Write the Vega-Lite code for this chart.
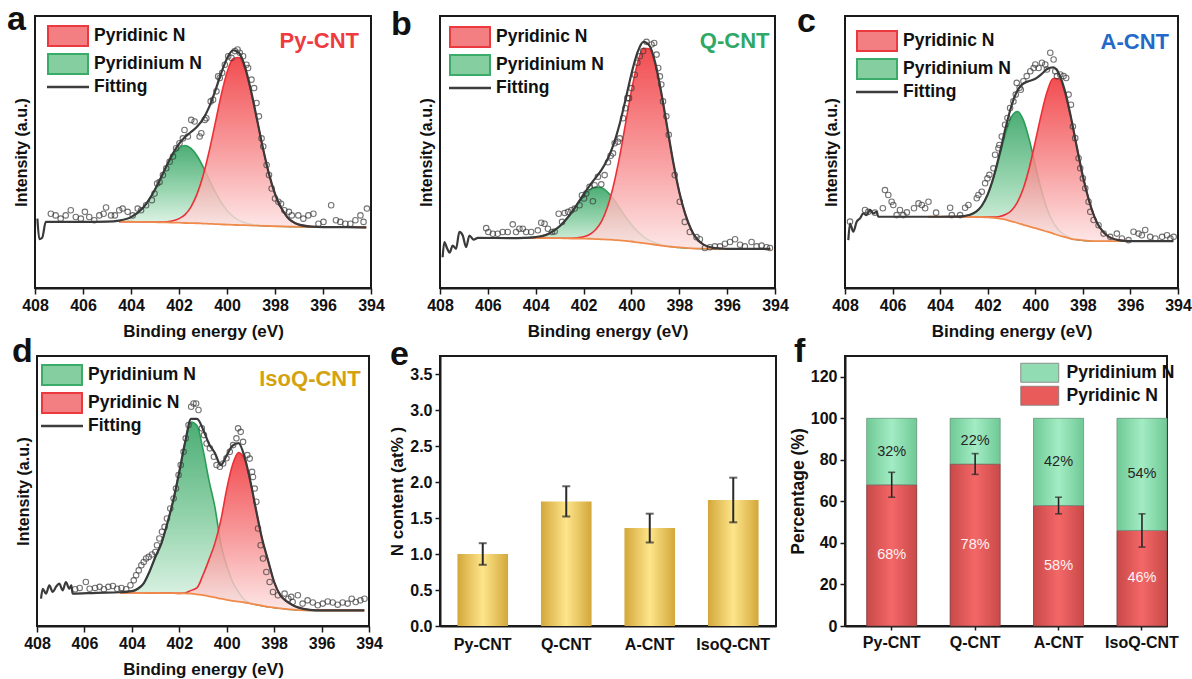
{
"$schema": "https://vega.github.io/schema/vega-lite/v6.json",
"autosize": {"type": "pad"},
"padding": {"left": 6, "top": 2, "right": 5, "bottom": 5},
"background": "white",
"config": {
  "font": "Liberation Sans",
  "view": {"stroke": "#1a1a1a", "strokeWidth": 2},
  "axis": {"grid": false, "domainColor": "#1a1a1a", "domainWidth": 2, "tickColor": "#1a1a1a", "tickWidth": 1.5, "labelColor": "#111", "labelFontWeight": "bold", "labelFontSize": 16, "titleColor": "#111", "titleFontWeight": "bold", "titleFontSize": 17},
  "title": {"font": "Liberation Sans", "fontWeight": "bold", "fontSize": 34, "color": "#111", "anchor": "start", "frame": "group", "offset": 0, "baseline": "alphabetic"},
  "legend": {"labelFont": "Liberation Sans"}
},
"datasets": {
"a_fit": [
{"e":407.9,"fit":25.5},{"e":407.82,"fit":18.0},{"e":407.7,"fit":18.5},{"e":407.55,"fit":24.3},{"e":406,"fit":24.3},{"e":405,"fit":24.4},
{"e":404.5,"bg":24.4,"r":24.4,"g":24.8,"fit":24.8},
{"e":404,"bg":24.35,"r":24.35,"g":26.05,"fit":26.05},
{"e":403.5,"bg":24.3,"r":24.3,"g":29.5,"fit":29.5},
{"e":403,"bg":24.2,"r":24.24,"g":36.2,"fit":36.24},
{"e":402.75,"bg":24.15,"r":24.25,"g":40.55,"fit":40.65},
{"e":402.5,"bg":24.1,"r":24.37,"g":45.0,"fit":45.27},
{"e":402.25,"bg":24.05,"r":24.72,"g":48.85,"fit":49.52},
{"e":402,"bg":24.0,"r":25.5,"g":51.5,"fit":53.0},
{"e":401.75,"bg":23.9,"r":27.0,"g":52.4,"fit":55.5},
{"e":401.5,"bg":23.85,"r":29.85,"g":51.35,"fit":57.35},
{"e":401.25,"bg":23.8,"r":34.5,"g":48.6,"fit":59.3},
{"e":401,"bg":23.7,"r":41.2,"g":44.6,"fit":62.1},
{"e":400.75,"bg":23.6,"r":50.0,"g":40.0,"fit":66.4},
{"e":400.5,"bg":23.5,"r":60.2,"g":35.5,"fit":72.2},
{"e":400.25,"bg":23.4,"r":70.6,"g":31.6,"fit":78.8},
{"e":400,"bg":23.3,"r":79.2,"g":28.5,"fit":84.4},
{"e":399.75,"bg":23.2,"r":84.3,"g":26.3,"fit":87.4},
{"e":399.5,"bg":23.15,"r":84.75,"g":24.85,"fit":86.45},
{"e":399.25,"bg":23.1,"r":80.4,"g":24.0,"fit":81.3},
{"e":399,"bg":23.0,"r":72.1,"g":23.43,"fit":72.53},
{"e":398.75,"bg":22.9,"r":61.8,"g":23.1,"fit":62.0},
{"e":398.5,"bg":22.85,"r":51.25,"g":22.93,"fit":51.33},
{"e":398.25,"bg":22.8,"r":41.9,"g":22.8,"fit":41.9},
{"e":398,"bg":22.7,"r":34.6,"g":22.7,"fit":34.6},
{"e":397.5,"bg":22.6,"r":26.2,"g":22.6,"fit":26.2},
{"e":397,"bg":22.5,"r":23.3,"g":22.5,"fit":23.3},
{"e":396.5,"bg":22.45,"r":22.58,"g":22.45,"fit":22.58},
{"e":396,"bg":22.4,"r":22.4,"g":22.4,"fit":22.4},
{"e":395,"bg":22.4,"r":22.4,"g":22.4,"fit":22.4},
{"e":394.2,"bg":22.3,"r":22.3,"g":22.3,"fit":22.3}
],
"a_pts": [
{"e":407.34,"v":27.3},{"e":407.14,"v":26.7},{"e":406.93,"v":25.5},{"e":406.72,"v":26.7},{"e":406.51,"v":28.6},{"e":406.3,"v":26.1},{"e":406.09,"v":25.5},{"e":405.92,"v":28.0},{"e":405.74,"v":26.1},{"e":405.53,"v":24.9},{"e":405.32,"v":26.7},{"e":405.14,"v":27.3},{"e":405.04,"v":29.6},{"e":404.83,"v":26.7},{"e":404.67,"v":26.7},{"e":404.49,"v":28.6},{"e":404.35,"v":29.2},{"e":404.14,"v":28.0},{"e":403.93,"v":26.7},{"e":403.72,"v":29.2},{"e":403.58,"v":28.6},{"e":403.37,"v":30.4},{"e":403.13,"v":32.3},{"e":403.02,"v":34.7},{"e":402.91,"v":38.4},{"e":402.81,"v":39.0},{"e":402.67,"v":41.5},{"e":402.53,"v":44.0},{"e":402.39,"v":46.4},{"e":402.25,"v":48.3},{"e":402.12,"v":51.4},{"e":401.98,"v":53.2},{"e":401.84,"v":55.0},{"e":401.77,"v":58.1},{"e":401.63,"v":55.7},{"e":401.49,"v":61.8},{"e":401.35,"v":61.2},{"e":401.14,"v":55.7},{"e":401.07,"v":56.9},{"e":400.93,"v":61.8},{"e":400.86,"v":62.4},{"e":400.68,"v":68.6},{"e":400.58,"v":69.2},{"e":400.44,"v":72.3},{"e":400.37,"v":77.8},{"e":400.3,"v":77.2},{"e":400.2,"v":79.1},{"e":400.09,"v":82.1},{"e":399.95,"v":85.2},{"e":399.81,"v":84.6},{"e":399.67,"v":87.1},{"e":399.56,"v":87.7},{"e":399.47,"v":86.5},{"e":399.33,"v":85.2},{"e":399.19,"v":82.1},{"e":399.12,"v":80.9},{"e":398.98,"v":76.6},{"e":398.87,"v":73.5},{"e":398.77,"v":68.0},{"e":398.67,"v":63.1},{"e":398.56,"v":55.0},{"e":398.49,"v":52.0},{"e":398.35,"v":45.2},{"e":398.25,"v":41.5},{"e":398.14,"v":36.6},{"e":398.0,"v":32.9},{"e":397.86,"v":31.7},{"e":397.75,"v":31.0},{"e":397.61,"v":28.6},{"e":397.42,"v":28.0},{"e":397.3,"v":26.7},{"e":397.03,"v":26.7},{"e":396.82,"v":25.5},{"e":396.61,"v":26.7},{"e":396.4,"v":27.3},{"e":396.19,"v":23.6},{"e":395.98,"v":24.3},{"e":395.66,"v":30.4},{"e":395.46,"v":24.9},{"e":395.28,"v":24.3},{"e":395.07,"v":23.6},{"e":394.86,"v":23.6},{"e":394.65,"v":24.9},{"e":394.44,"v":26.7},{"e":394.31,"v":24.3},{"e":394.17,"v":29.2}
],
"b_fit": [
{"e":407.89,"fit":11.3},{"e":407.82,"fit":16.9},{"e":407.7,"fit":14.5},{"e":407.6,"fit":13.0},{"e":407.47,"fit":15.6},{"e":407.33,"fit":14.4},{"e":407.19,"fit":20.6},{"e":407.05,"fit":19.3},{"e":406.91,"fit":15.0},{"e":406.77,"fit":19.3},{"e":406.59,"fit":17.8},{"e":406.42,"fit":18.4},{"e":405,"fit":18.35},
{"e":404.5,"bg":18.35,"r":18.35,"g":18.42,"fit":18.42},
{"e":404,"bg":18.35,"r":18.35,"g":18.73,"fit":18.73},
{"e":403.5,"bg":18.3,"r":18.3,"g":19.8,"fit":19.8},
{"e":403,"bg":18.3,"r":18.3,"g":22.7,"fit":22.7},
{"e":402.75,"bg":18.25,"r":18.28,"g":24.95,"fit":24.98},
{"e":402.5,"bg":18.2,"r":18.3,"g":27.7,"fit":27.8},
{"e":402.25,"bg":18.2,"r":18.47,"g":30.8,"fit":31.07},
{"e":402,"bg":18.15,"r":18.82,"g":33.75,"fit":34.42},
{"e":401.75,"bg":18.1,"r":19.67,"g":36.0,"fit":37.57},
{"e":401.5,"bg":18.0,"r":21.4,"g":37.1,"fit":40.5},
{"e":401.25,"bg":17.9,"r":24.5,"g":36.85,"fit":43.45},
{"e":401,"bg":17.8,"r":29.8,"g":35.3,"fit":47.3},
{"e":400.75,"bg":17.7,"r":37.7,"g":32.7,"fit":52.7},
{"e":400.5,"bg":17.5,"r":48.0,"g":29.5,"fit":60.0},
{"e":400.25,"bg":17.3,"r":60.2,"g":26.2,"fit":69.1},
{"e":400,"bg":17.1,"r":72.5,"g":23.3,"fit":78.7},
{"e":399.75,"bg":16.8,"r":82.5,"g":20.8,"fit":86.5},
{"e":399.5,"bg":16.5,"r":88.1,"g":18.9,"fit":90.5},
{"e":399.25,"bg":16.2,"r":87.9,"g":17.5,"fit":89.2},
{"e":399,"bg":15.9,"r":81.9,"g":16.6,"fit":82.6},
{"e":398.75,"bg":15.6,"r":71.4,"g":15.93,"fit":71.73},
{"e":398.5,"bg":15.3,"r":58.7,"g":15.45,"fit":58.85},
{"e":398.25,"bg":15.1,"r":46.1,"g":15.16,"fit":46.16},
{"e":398,"bg":14.9,"r":35.3,"g":14.9,"fit":35.3},
{"e":397.5,"bg":14.6,"r":21.4,"g":14.6,"fit":21.4},
{"e":397,"bg":14.45,"r":16.05,"g":14.45,"fit":16.05},
{"e":396.5,"bg":14.4,"r":14.7,"g":14.4,"fit":14.7},
{"e":396,"bg":14.4,"r":14.4,"g":14.4,"fit":14.4},
{"e":395,"bg":14.4,"r":14.4,"g":14.4,"fit":14.4},
{"e":394.2,"bg":14.4,"r":14.4,"g":14.4,"fit":14.4}
],
"b_pts": [
{"e":406.07,"v":22.0},{"e":405.98,"v":20.6},{"e":405.79,"v":19.95},{"e":405.59,"v":19.95},{"e":405.38,"v":20.6},{"e":405.17,"v":20.6},{"e":404.96,"v":23.4},{"e":404.82,"v":20.6},{"e":404.68,"v":21.8},{"e":404.54,"v":21.8},{"e":404.4,"v":20.6},{"e":404.19,"v":20.6},{"e":403.91,"v":21.2},{"e":403.77,"v":24.0},{"e":403.63,"v":23.6},{"e":403.49,"v":21.8},{"e":403.32,"v":20.6},{"e":403.21,"v":20.8},{"e":403.04,"v":27.3},{"e":402.9,"v":24.3},{"e":402.79,"v":27.6},{"e":402.65,"v":28.0},{"e":402.51,"v":28.6},{"e":402.37,"v":29.2},{"e":402.17,"v":30.4},{"e":402.07,"v":34.1},{"e":401.98,"v":32.9},{"e":401.89,"v":34.7},{"e":401.75,"v":37.2},{"e":401.61,"v":31.9},{"e":401.54,"v":37.8},{"e":401.4,"v":40.9},{"e":401.26,"v":38.1},{"e":401.12,"v":41.5},{"e":400.98,"v":46.2},{"e":400.87,"v":48.6},{"e":400.77,"v":49.5},{"e":400.7,"v":53.2},{"e":400.56,"v":53.8},{"e":400.49,"v":55.0},{"e":400.35,"v":62.4},{"e":400.25,"v":66.1},{"e":400.17,"v":69.8},{"e":400.1,"v":69.8},{"e":400.0,"v":73.5},{"e":399.86,"v":78.4},{"e":399.75,"v":82.8},{"e":399.65,"v":85.2},{"e":399.51,"v":87.1},{"e":399.37,"v":90.5},{"e":399.16,"v":89.5},{"e":399.05,"v":90.1},{"e":398.95,"v":85.8},{"e":398.88,"v":80.9},{"e":398.81,"v":77.8},{"e":398.75,"v":74.8},{"e":398.68,"v":68.6},{"e":398.54,"v":63.1},{"e":398.44,"v":56.3},{"e":398.19,"v":41.5},{"e":397.98,"v":31.7},{"e":397.77,"v":24.3},{"e":397.56,"v":20.6},{"e":397.28,"v":18.7},{"e":397.14,"v":17.9},{"e":396.93,"v":14.7},{"e":396.72,"v":15.0},{"e":396.51,"v":15.3},{"e":396.3,"v":15.3},{"e":396.09,"v":16.3},{"e":395.88,"v":16.9},{"e":395.67,"v":17.9},{"e":395.46,"v":15.9},{"e":395.26,"v":15.3},{"e":394.98,"v":16.9},{"e":394.77,"v":15.3},{"e":394.56,"v":15.6},{"e":394.35,"v":15.0},{"e":394.21,"v":14.7}
],
"c_fit": [
{"e":407.86,"fit":17.6},{"e":407.79,"fit":23.7},{"e":407.65,"fit":20.7},{"e":407.51,"fit":24.4},{"e":407.37,"fit":25.6},{"e":407.23,"fit":27.4},{"e":407.09,"fit":26.8},{"e":406.95,"fit":28.7},{"e":406.81,"fit":27.4},{"e":406.67,"fit":28.0},{"e":406.6,"fit":26.2},{"e":405,"fit":26.2},
{"e":404.5,"bg":26.2,"r":26.2,"g":26.2,"fit":26.2},
{"e":404,"bg":26.2,"r":26.2,"g":26.2,"fit":26.2},
{"e":403.5,"bg":26.2,"r":26.2,"g":26.22,"fit":26.22},
{"e":403,"bg":26.2,"r":26.2,"g":26.43,"fit":26.43},
{"e":402.75,"bg":26.2,"r":26.2,"g":26.9,"fit":26.9},
{"e":402.5,"bg":26.15,"r":26.15,"g":27.95,"fit":27.95},
{"e":402.25,"bg":26.1,"r":26.14,"g":30.2,"fit":30.24},
{"e":402,"bg":26.0,"r":26.11,"g":34.3,"fit":34.41},
{"e":401.75,"bg":25.8,"r":26.11,"g":40.6,"fit":40.91},
{"e":401.5,"bg":25.5,"r":26.3,"g":48.6,"fit":49.4},
{"e":401.25,"bg":25.1,"r":27.0,"g":56.9,"fit":58.8},
{"e":401,"bg":24.5,"r":28.5,"g":63.0,"fit":67.0},
{"e":400.75,"bg":23.9,"r":31.6,"g":64.9,"fit":72.6},
{"e":400.5,"bg":23.2,"r":36.7,"g":61.7,"fit":75.2},
{"e":400.25,"bg":22.6,"r":44.3,"g":54.4,"fit":76.1},
{"e":400,"bg":22.0,"r":53.8,"g":45.1,"fit":76.9},
{"e":399.75,"bg":21.35,"r":63.75,"g":36.15,"fit":78.55},
{"e":399.5,"bg":20.7,"r":72.2,"g":29.0,"fit":80.5},
{"e":399.25,"bg":20.0,"r":77.0,"g":24.1,"fit":81.1},
{"e":399,"bg":19.3,"r":76.9,"g":21.1,"fit":78.7},
{"e":398.75,"bg":18.7,"r":71.6,"g":19.4,"fit":72.3},
{"e":398.5,"bg":18.1,"r":62.5,"g":18.33,"fit":62.73},
{"e":398.25,"bg":17.75,"r":51.65,"g":17.77,"fit":51.67},
{"e":398,"bg":17.5,"r":41.1,"g":17.5,"fit":41.1},
{"e":397.5,"bg":17.25,"r":25.85,"g":17.25,"fit":25.85},
{"e":397,"bg":17.2,"r":19.4,"g":17.2,"fit":19.4},
{"e":396.5,"bg":17.2,"r":17.6,"g":17.2,"fit":17.6},
{"e":396,"bg":17.2,"r":17.25,"g":17.2,"fit":17.25},
{"e":395,"bg":17.2,"r":17.2,"g":17.2,"fit":17.2},
{"e":394.2,"bg":17.2,"r":17.2,"g":17.2,"fit":17.2}
],
"c_pts": [
{"e":407.79,"v":24.4},{"e":407.16,"v":28.7},{"e":407.02,"v":28.0},{"e":406.74,"v":27.7},{"e":406.41,"v":29.3},{"e":406.32,"v":36.0},{"e":406.18,"v":34.2},{"e":406.04,"v":31.7},{"e":405.97,"v":30.5},{"e":405.83,"v":26.8},{"e":405.69,"v":28.7},{"e":405.55,"v":26.8},{"e":405.4,"v":27.8},{"e":405.1,"v":29.3},{"e":404.91,"v":31.1},{"e":404.77,"v":30.5},{"e":404.63,"v":29.3},{"e":404.49,"v":31.7},{"e":404.17,"v":27.7},{"e":403.58,"v":29.5},{"e":403.51,"v":26.8},{"e":403.16,"v":26.8},{"e":402.95,"v":29.5},{"e":402.81,"v":30.5},{"e":402.46,"v":33.0},{"e":402.39,"v":34.2},{"e":402.25,"v":35.4},{"e":402.11,"v":38.5},{"e":402.01,"v":40.3},{"e":401.93,"v":41.6},{"e":401.76,"v":44.0},{"e":401.69,"v":49.0},{"e":401.55,"v":51.4},{"e":401.51,"v":52.6},{"e":401.41,"v":55.7},{"e":401.27,"v":60.0},{"e":401.17,"v":62.5},{"e":401.06,"v":66.2},{"e":400.92,"v":68.6},{"e":400.82,"v":71.1},{"e":400.78,"v":75.4},{"e":400.66,"v":73.6},{"e":400.61,"v":72.9},{"e":400.5,"v":76.0},{"e":400.36,"v":77.9},{"e":400.21,"v":79.7},{"e":400.07,"v":80.9},{"e":400.0,"v":82.2},{"e":399.86,"v":80.9},{"e":399.72,"v":82.8},{"e":399.58,"v":82.2},{"e":399.51,"v":80.3},{"e":399.37,"v":86.5},{"e":399.23,"v":84.0},{"e":399.16,"v":79.7},{"e":399.09,"v":77.9},{"e":398.95,"v":78.5},{"e":398.81,"v":77.9},{"e":398.7,"v":77.2},{"e":398.6,"v":71.1},{"e":398.5,"v":67.4},{"e":398.42,"v":59.4},{"e":398.32,"v":55.1},{"e":398.18,"v":47.7},{"e":398.11,"v":44.0},{"e":398.0,"v":40.3},{"e":397.9,"v":36.7},{"e":397.76,"v":31.7},{"e":397.69,"v":28.0},{"e":397.55,"v":25.0},{"e":397.34,"v":23.1},{"e":397.13,"v":20.0},{"e":396.85,"v":18.8},{"e":396.57,"v":20.0},{"e":396.36,"v":18.2},{"e":396.08,"v":17.6},{"e":395.87,"v":20.7},{"e":395.66,"v":20.0},{"e":395.52,"v":19.4},{"e":395.38,"v":21.3},{"e":395.17,"v":18.8},{"e":394.95,"v":18.2},{"e":394.67,"v":18.8},{"e":394.46,"v":19.4},{"e":394.32,"v":18.2},{"e":394.18,"v":18.8}
],
"d_fit": [
{"e":407.83,"fit":10.1},{"e":407.76,"fit":13.8},{"e":407.62,"fit":12.0},{"e":407.48,"fit":15.1},{"e":407.34,"fit":12.6},{"e":407.2,"fit":14.5},{"e":407.06,"fit":15.7},{"e":406.92,"fit":13.2},{"e":406.78,"fit":16.3},{"e":406.64,"fit":13.8},{"e":406.55,"fit":15.1},{"e":406.5,"fit":12.0},{"e":405.5,"fit":12.3},
{"e":404.5,"bg":12.3,"r":12.3,"g":12.5,"fit":12.5},
{"e":404,"bg":12.3,"r":12.3,"g":12.9,"fit":12.9},
{"e":403.75,"bg":12.3,"r":12.3,"g":13.8,"fit":13.8},
{"e":403.5,"bg":12.3,"r":12.3,"g":15.8,"fit":15.8},
{"e":403.25,"bg":12.25,"r":12.25,"g":20.25,"fit":20.25},
{"e":403,"bg":12.25,"r":12.25,"g":25.75,"fit":25.75},
{"e":402.75,"bg":12.2,"r":12.2,"g":30.7,"fit":30.7},
{"e":402.5,"bg":12.2,"r":12.2,"g":38.2,"fit":38.2},
{"e":402.25,"bg":12.15,"r":12.15,"g":46.65,"fit":46.65},
{"e":402,"bg":12.1,"r":12.1,"g":57.1,"fit":57.1},
{"e":401.75,"bg":12.05,"r":12.25,"g":68.05,"fit":68.25},
{"e":401.5,"bg":12.0,"r":13.2,"g":75.5,"fit":76.7},
{"e":401.25,"bg":11.7,"r":14.2,"g":74.2,"fit":76.7},
{"e":401,"bg":11.4,"r":18.9,"g":65.4,"fit":72.9},
{"e":400.75,"bg":11.0,"r":24.5,"g":54.0,"fit":67.5},
{"e":400.5,"bg":10.6,"r":30.6,"g":44.1,"fit":64.1},
{"e":400.25,"bg":10.1,"r":39.1,"g":30.6,"fit":59.6},
{"e":400,"bg":9.7,"r":50.7,"g":22.2,"fit":63.2},
{"e":399.75,"bg":9.3,"r":59.8,"g":16.3,"fit":66.8},
{"e":399.5,"bg":9.0,"r":64.2,"g":12.5,"fit":67.7},
{"e":399.25,"bg":8.7,"r":61.7,"g":9.7,"fit":62.7},
{"e":399,"bg":8.3,"r":53.3,"g":8.5,"fit":53.5},
{"e":398.75,"bg":7.9,"r":42.4,"g":7.9,"fit":42.4},
{"e":398.5,"bg":7.5,"r":32.0,"g":7.5,"fit":32.0},
{"e":398.25,"bg":7.1,"r":24.1,"g":7.1,"fit":24.1},
{"e":398,"bg":6.8,"r":16.3,"g":6.8,"fit":16.3},
{"e":397.75,"bg":6.55,"r":11.55,"g":6.55,"fit":11.55},
{"e":397.5,"bg":6.3,"r":9.3,"g":6.3,"fit":9.3},
{"e":397.25,"bg":6.1,"r":7.9,"g":6.1,"fit":7.9},
{"e":397,"bg":5.9,"r":6.9,"g":5.9,"fit":6.9},
{"e":396.5,"bg":5.8,"r":6.0,"g":5.8,"fit":6.0},
{"e":396,"bg":5.8,"r":5.8,"g":5.8,"fit":5.8},
{"e":395,"bg":5.8,"r":5.8,"g":5.8,"fit":5.8},
{"e":394.2,"bg":5.8,"r":5.8,"g":5.8,"fit":5.8}
],
"d_pts": [
{"e":406.39,"v":13.6},{"e":406.2,"v":14.1},{"e":405.94,"v":16.3},{"e":405.78,"v":13.8},{"e":405.55,"v":14.1},{"e":405.36,"v":14.5},{"e":405.18,"v":13.6},{"e":404.99,"v":14.5},{"e":404.8,"v":14.8},{"e":404.62,"v":13.8},{"e":404.44,"v":14.1},{"e":404.24,"v":13.6},{"e":404.06,"v":15.1},{"e":403.92,"v":16.9},{"e":403.82,"v":18.8},{"e":403.71,"v":20.6},{"e":403.6,"v":22.5},{"e":403.5,"v":23.7},{"e":403.4,"v":25.0},{"e":403.29,"v":25.6},{"e":403.15,"v":26.5},{"e":403.01,"v":27.4},{"e":402.94,"v":29.9},{"e":402.84,"v":32.4},{"e":402.73,"v":34.9},{"e":402.62,"v":36.7},{"e":402.52,"v":39.8},{"e":402.38,"v":43.5},{"e":402.24,"v":47.2},{"e":402.14,"v":50.9},{"e":402.03,"v":55.9},{"e":401.94,"v":59.6},{"e":401.82,"v":64.5},{"e":401.73,"v":69.5},{"e":401.61,"v":74.4},{"e":401.5,"v":81.2},{"e":401.4,"v":82.4},{"e":401.29,"v":82.4},{"e":401.19,"v":80.0},{"e":401.05,"v":73.2},{"e":400.96,"v":70.7},{"e":400.85,"v":67.6},{"e":400.71,"v":65.8},{"e":400.54,"v":62.7},{"e":400.43,"v":59.6},{"e":400.29,"v":59.0},{"e":400.15,"v":60.2},{"e":400.01,"v":62.1},{"e":399.87,"v":64.5},{"e":399.73,"v":67.0},{"e":399.59,"v":69.5},{"e":399.52,"v":73.2},{"e":399.41,"v":71.9},{"e":399.31,"v":68.2},{"e":399.13,"v":63.3},{"e":399.03,"v":62.0},{"e":398.93,"v":57.1},{"e":398.89,"v":55.2},{"e":398.82,"v":50.9},{"e":398.75,"v":46.0},{"e":398.68,"v":36.1},{"e":398.57,"v":29.9},{"e":398.47,"v":25.0},{"e":398.33,"v":20.0},{"e":398.19,"v":16.3},{"e":398.05,"v":12.6},{"e":397.84,"v":11.4},{"e":397.56,"v":12.0},{"e":397.4,"v":10.1},{"e":397.28,"v":10.8},{"e":397.22,"v":8.9},{"e":397.0,"v":11.4},{"e":396.8,"v":8.3},{"e":396.59,"v":9.5},{"e":396.37,"v":8.7},{"e":396.16,"v":7.7},{"e":395.95,"v":8.3},{"e":395.74,"v":9.1},{"e":395.53,"v":8.7},{"e":395.32,"v":7.9},{"e":395.11,"v":8.7},{"e":394.9,"v":8.3},{"e":394.73,"v":10.1},{"e":394.56,"v":8.9},{"e":394.36,"v":9.5},{"e":394.19,"v":10.1}
],
"e_data": [
{"cat":"Py-CNT","v":1.0,"lo":0.85,"hi":1.15},
{"cat":"Q-CNT","v":1.73,"lo":1.52,"hi":1.94},
{"cat":"A-CNT","v":1.36,"lo":1.16,"hi":1.56},
{"cat":"IsoQ-CNT","v":1.75,"lo":1.44,"hi":2.06}
],
"f_data": [
{"cat":"Py-CNT","kind":"Pyridinic N","pct":68,"label":"68%"},
{"cat":"Py-CNT","kind":"Pyridinium N","pct":32,"label":"32%"},
{"cat":"Q-CNT","kind":"Pyridinic N","pct":78,"label":"78%"},
{"cat":"Q-CNT","kind":"Pyridinium N","pct":22,"label":"22%"},
{"cat":"A-CNT","kind":"Pyridinic N","pct":58,"label":"58%"},
{"cat":"A-CNT","kind":"Pyridinium N","pct":42,"label":"42%"},
{"cat":"IsoQ-CNT","kind":"Pyridinic N","pct":46,"label":"46%"},
{"cat":"IsoQ-CNT","kind":"Pyridinium N","pct":54,"label":"54%"}
],
"f_err": [
{"cat":"Py-CNT","lo":62,"hi":74},
{"cat":"Q-CNT","lo":73,"hi":83},
{"cat":"A-CNT","lo":54,"hi":62},
{"cat":"IsoQ-CNT","lo":38,"hi":54}
]
},
"columns": 3,
"spacing": {"row": 68, "column": 69},
"bounds": "flush",
"center": true,
"align": "all",
"resolve": {"scale": {"fill": "independent", "stroke": "independent", "shape": "independent"}, "legend": {"fill": "independent", "stroke": "independent", "shape": "independent"}},
"concat": [
 {"width": 336, "height": 272,
  "title": {"text": "a", "dx": -28, "dy": 25},
  "layer": [
   {"data": {"name": "a_fit"}, "mark": {"type": "area", "interpolate": "monotone", "opacity": 0.85, "fill": {"gradient": "linear", "x1": 0, "y1": 0, "x2": 0, "y2": 1, "stops": [{"offset": 0, "color": "#2c9f5c"}, {"offset": 0.55, "color": "#88cfa3"}, {"offset": 1, "color": "#e2f5e9"}]}},
    "encoding": {"x": {"field": "e", "type": "quantitative", "scale": {"domain": [408, 394], "nice": false, "zero": false},
       "axis": {"values": [394,395,396,397,398,399,400,401,402,403,404,405,406,407,408], "labelExpr": "datum.value % 2 === 0 ? datum.label : ''", "tickSize": {"condition": {"test": "datum.value % 2 === 0", "value": 6}, "value": 3}, "labelPadding": 3, "labelOverlap": false, "labelFlush": false, "title": "Binding energy (eV)", "titlePadding": 10}},
     "y": {"field": "g", "type": "quantitative", "scale": {"domain": [0, 100], "nice": false, "zero": false}, "axis": {"title": "Intensity (a.u.)", "labels": false, "ticks": false, "domain": false, "titlePadding": 6, "titleFontSize": 16, "minExtent": 0, "maxExtent": 0}},
     "y2": {"field": "bg"}}},
   {"data": {"name": "a_fit"}, "mark": {"type": "line", "interpolate": "monotone", "color": "#2a9d58", "strokeWidth": 1.6}, "encoding": {"x": {"field": "e", "type": "quantitative", "title": "Binding energy (eV)"}, "y": {"field": "g", "type": "quantitative", "title": "Intensity (a.u.)"}}},
   {"data": {"name": "a_fit"}, "mark": {"type": "area", "interpolate": "monotone", "opacity": 0.85, "fill": {"gradient": "linear", "x1": 0, "y1": 0, "x2": 0, "y2": 1, "stops": [{"offset": 0, "color": "#ef2f33"}, {"offset": 0.55, "color": "#f78d8f"}, {"offset": 1, "color": "#fde2e2"}]}},
    "encoding": {"x": {"field": "e", "type": "quantitative", "title": "Binding energy (eV)"}, "y": {"field": "r", "type": "quantitative", "title": "Intensity (a.u.)"}, "y2": {"field": "bg"}}},
   {"data": {"name": "a_fit"}, "mark": {"type": "line", "interpolate": "monotone", "color": "#ec3035", "strokeWidth": 1.6}, "encoding": {"x": {"field": "e", "type": "quantitative", "title": "Binding energy (eV)"}, "y": {"field": "r", "type": "quantitative", "title": "Intensity (a.u.)"}}},
   {"data": {"name": "a_fit"}, "mark": {"type": "line", "interpolate": "monotone", "color": "#f08a4b", "strokeWidth": 1.8}, "encoding": {"x": {"field": "e", "type": "quantitative", "title": "Binding energy (eV)"}, "y": {"field": "bg", "type": "quantitative", "title": "Intensity (a.u.)"}}},
   {"data": {"name": "a_fit"}, "mark": {"type": "line", "interpolate": "monotone", "color": "#3a3a3a", "strokeWidth": 2.2}, "encoding": {"x": {"field": "e", "type": "quantitative", "title": "Binding energy (eV)"}, "y": {"field": "fit", "type": "quantitative", "title": "Intensity (a.u.)"}}},
   {"data": {"name": "a_pts"}, "mark": {"type": "point", "shape": "circle", "size": 30, "strokeWidth": 1.1, "color": "#3a3a3a", "filled": false}, "encoding": {"x": {"field": "e", "type": "quantitative", "title": "Binding energy (eV)"}, "y": {"field": "v", "type": "quantitative", "title": "Intensity (a.u.)"}}},
   {"data": {"values": [{}]}, "mark": {"type": "text", "text": "Py-CNT", "align": "right", "baseline": "alphabetic", "fontSize": 22, "fontWeight": "bold", "color": "#ef3b3f"}, "encoding": {"x": {"datum": 394.5}, "y": {"datum": 88.2}}},
   {"data": {"values": [{"s": "Pyridinic N"}, {"s": "Pyridinium N"}, {"s": "Fitting"}]}, "mark": {"type": "point", "opacity": 0, "filled": true},
    "encoding": {
     "fill": {"field": "s", "type": "nominal", "scale": {"domain": ["Pyridinic N", "Pyridinium N", "Fitting"], "range": ["#f47f82", "#84ce9f", "#3d3d3d"]}, "legend": {"title": null, "orient": "none", "legendX": 24, "legendY": 11, "padding": 0, "symbolSize": 256, "symbolStrokeWidth": 2, "symbolOpacity": 1, "labelFontSize": 17.5, "labelFontWeight": "bold", "labelColor": "#111", "labelOffset": 17, "rowPadding": 0, "labelLimit": 300}},
     "stroke": {"field": "s", "type": "nominal", "scale": {"domain": ["Pyridinic N", "Pyridinium N", "Fitting"], "range": ["#ea3a3f", "#3aab69", "#3d3d3d"]}, "legend": {"title": null, "orient": "none", "legendX": 24, "legendY": 11, "padding": 0, "symbolSize": 256, "symbolStrokeWidth": 2, "symbolOpacity": 1, "labelFontSize": 17.5, "labelFontWeight": "bold", "labelColor": "#111", "labelOffset": 17, "rowPadding": 0, "labelLimit": 300}},
     "shape": {"field": "s", "type": "nominal", "scale": {"domain": ["Pyridinic N", "Pyridinium N", "Fitting"], "range": ["M-2.5,-1.25H2.5V1.25H-2.5Z", "M-2.5,-1.25H2.5V1.25H-2.5Z", "M-2.5,-0.025H2.5V0.025H-2.5Z"]}, "legend": {"title": null, "orient": "none", "legendX": 24, "legendY": 11, "padding": 0, "symbolSize": 256, "symbolStrokeWidth": 2, "symbolOpacity": 1, "labelFontSize": 17.5, "labelFontWeight": "bold", "labelColor": "#111", "labelOffset": 17, "rowPadding": 0, "labelLimit": 300}}
    }}
  ]},
 {"width": 335, "height": 272,
  "title": {"text": "b", "dx": -49, "dy": 30},
  "layer": [
   {"data": {"name": "b_fit"}, "mark": {"type": "area", "interpolate": "monotone", "opacity": 0.85, "fill": {"gradient": "linear", "x1": 0, "y1": 0, "x2": 0, "y2": 1, "stops": [{"offset": 0, "color": "#2c9f5c"}, {"offset": 0.55, "color": "#88cfa3"}, {"offset": 1, "color": "#e2f5e9"}]}},
    "encoding": {"x": {"field": "e", "type": "quantitative", "scale": {"domain": [408, 394], "nice": false, "zero": false},
       "axis": {"values": [394,395,396,397,398,399,400,401,402,403,404,405,406,407,408], "labelExpr": "datum.value % 2 === 0 ? datum.label : ''", "tickSize": {"condition": {"test": "datum.value % 2 === 0", "value": 6}, "value": 3}, "labelPadding": 3, "labelOverlap": false, "labelFlush": false, "title": "Binding energy (eV)", "titlePadding": 10}},
     "y": {"field": "g", "type": "quantitative", "scale": {"domain": [0, 100], "nice": false, "zero": false}, "axis": {"title": "Intensity (a.u.)", "labels": false, "ticks": false, "domain": false, "titlePadding": 6, "titleFontSize": 16, "minExtent": 0, "maxExtent": 0}},
     "y2": {"field": "bg"}}},
   {"data": {"name": "b_fit"}, "mark": {"type": "line", "interpolate": "monotone", "color": "#2a9d58", "strokeWidth": 1.6}, "encoding": {"x": {"field": "e", "type": "quantitative", "title": "Binding energy (eV)"}, "y": {"field": "g", "type": "quantitative", "title": "Intensity (a.u.)"}}},
   {"data": {"name": "b_fit"}, "mark": {"type": "area", "interpolate": "monotone", "opacity": 0.85, "fill": {"gradient": "linear", "x1": 0, "y1": 0, "x2": 0, "y2": 1, "stops": [{"offset": 0, "color": "#ef2f33"}, {"offset": 0.55, "color": "#f78d8f"}, {"offset": 1, "color": "#fde2e2"}]}},
    "encoding": {"x": {"field": "e", "type": "quantitative", "title": "Binding energy (eV)"}, "y": {"field": "r", "type": "quantitative", "title": "Intensity (a.u.)"}, "y2": {"field": "bg"}}},
   {"data": {"name": "b_fit"}, "mark": {"type": "line", "interpolate": "monotone", "color": "#ec3035", "strokeWidth": 1.6}, "encoding": {"x": {"field": "e", "type": "quantitative", "title": "Binding energy (eV)"}, "y": {"field": "r", "type": "quantitative", "title": "Intensity (a.u.)"}}},
   {"data": {"name": "b_fit"}, "mark": {"type": "line", "interpolate": "monotone", "color": "#f08a4b", "strokeWidth": 1.8}, "encoding": {"x": {"field": "e", "type": "quantitative", "title": "Binding energy (eV)"}, "y": {"field": "bg", "type": "quantitative", "title": "Intensity (a.u.)"}}},
   {"data": {"name": "b_fit"}, "mark": {"type": "line", "interpolate": "monotone", "color": "#3a3a3a", "strokeWidth": 2.2}, "encoding": {"x": {"field": "e", "type": "quantitative", "title": "Binding energy (eV)"}, "y": {"field": "fit", "type": "quantitative", "title": "Intensity (a.u.)"}}},
   {"data": {"name": "b_pts"}, "mark": {"type": "point", "shape": "circle", "size": 30, "strokeWidth": 1.1, "color": "#3a3a3a", "filled": false}, "encoding": {"x": {"field": "e", "type": "quantitative", "title": "Binding energy (eV)"}, "y": {"field": "v", "type": "quantitative", "title": "Intensity (a.u.)"}}},
   {"data": {"values": [{}]}, "mark": {"type": "text", "text": "Q-CNT", "align": "right", "baseline": "alphabetic", "fontSize": 22, "fontWeight": "bold", "color": "#2fa866"}, "encoding": {"x": {"datum": 394.23}, "y": {"datum": 88.2}}},
   {"data": {"values": [{"s": "Pyridinic N"}, {"s": "Pyridinium N"}, {"s": "Fitting"}]}, "mark": {"type": "point", "opacity": 0, "filled": true},
    "encoding": {
     "fill": {"field": "s", "type": "nominal", "scale": {"domain": ["Pyridinic N", "Pyridinium N", "Fitting"], "range": ["#f47f82", "#84ce9f", "#3d3d3d"]}, "legend": {"title": null, "orient": "none", "legendX": 21, "legendY": 12, "padding": 0, "symbolSize": 256, "symbolStrokeWidth": 2, "symbolOpacity": 1, "labelFontSize": 17.5, "labelFontWeight": "bold", "labelColor": "#111", "labelOffset": 17, "rowPadding": 0, "labelLimit": 300}},
     "stroke": {"field": "s", "type": "nominal", "scale": {"domain": ["Pyridinic N", "Pyridinium N", "Fitting"], "range": ["#ea3a3f", "#3aab69", "#3d3d3d"]}, "legend": {"title": null, "orient": "none", "legendX": 21, "legendY": 12, "padding": 0, "symbolSize": 256, "symbolStrokeWidth": 2, "symbolOpacity": 1, "labelFontSize": 17.5, "labelFontWeight": "bold", "labelColor": "#111", "labelOffset": 17, "rowPadding": 0, "labelLimit": 300}},
     "shape": {"field": "s", "type": "nominal", "scale": {"domain": ["Pyridinic N", "Pyridinium N", "Fitting"], "range": ["M-2.5,-1.25H2.5V1.25H-2.5Z", "M-2.5,-1.25H2.5V1.25H-2.5Z", "M-2.5,-0.025H2.5V0.025H-2.5Z"]}, "legend": {"title": null, "orient": "none", "legendX": 21, "legendY": 12, "padding": 0, "symbolSize": 256, "symbolStrokeWidth": 2, "symbolOpacity": 1, "labelFontSize": 17.5, "labelFontWeight": "bold", "labelColor": "#111", "labelOffset": 17, "rowPadding": 0, "labelLimit": 300}}
    }}
  ]},
 {"width": 333, "height": 272,
  "title": {"text": "c", "dx": -48, "dy": 27},
  "layer": [
   {"data": {"name": "c_fit"}, "mark": {"type": "area", "interpolate": "monotone", "opacity": 0.85, "fill": {"gradient": "linear", "x1": 0, "y1": 0, "x2": 0, "y2": 1, "stops": [{"offset": 0, "color": "#2c9f5c"}, {"offset": 0.55, "color": "#88cfa3"}, {"offset": 1, "color": "#e2f5e9"}]}},
    "encoding": {"x": {"field": "e", "type": "quantitative", "scale": {"domain": [408, 394], "nice": false, "zero": false},
       "axis": {"values": [394,395,396,397,398,399,400,401,402,403,404,405,406,407,408], "labelExpr": "datum.value % 2 === 0 ? datum.label : ''", "tickSize": {"condition": {"test": "datum.value % 2 === 0", "value": 6}, "value": 3}, "labelPadding": 3, "labelOverlap": false, "labelFlush": false, "title": "Binding energy (eV)", "titlePadding": 10}},
     "y": {"field": "g", "type": "quantitative", "scale": {"domain": [0, 100], "nice": false, "zero": false}, "axis": {"title": "Intensity (a.u.)", "labels": false, "ticks": false, "domain": false, "titlePadding": 6, "titleFontSize": 16, "minExtent": 0, "maxExtent": 0}},
     "y2": {"field": "bg"}}},
   {"data": {"name": "c_fit"}, "mark": {"type": "line", "interpolate": "monotone", "color": "#2a9d58", "strokeWidth": 1.6}, "encoding": {"x": {"field": "e", "type": "quantitative", "title": "Binding energy (eV)"}, "y": {"field": "g", "type": "quantitative", "title": "Intensity (a.u.)"}}},
   {"data": {"name": "c_fit"}, "mark": {"type": "area", "interpolate": "monotone", "opacity": 0.85, "fill": {"gradient": "linear", "x1": 0, "y1": 0, "x2": 0, "y2": 1, "stops": [{"offset": 0, "color": "#ef2f33"}, {"offset": 0.55, "color": "#f78d8f"}, {"offset": 1, "color": "#fde2e2"}]}},
    "encoding": {"x": {"field": "e", "type": "quantitative", "title": "Binding energy (eV)"}, "y": {"field": "r", "type": "quantitative", "title": "Intensity (a.u.)"}, "y2": {"field": "bg"}}},
   {"data": {"name": "c_fit"}, "mark": {"type": "line", "interpolate": "monotone", "color": "#ec3035", "strokeWidth": 1.6}, "encoding": {"x": {"field": "e", "type": "quantitative", "title": "Binding energy (eV)"}, "y": {"field": "r", "type": "quantitative", "title": "Intensity (a.u.)"}}},
   {"data": {"name": "c_fit"}, "mark": {"type": "line", "interpolate": "monotone", "color": "#f08a4b", "strokeWidth": 1.8}, "encoding": {"x": {"field": "e", "type": "quantitative", "title": "Binding energy (eV)"}, "y": {"field": "bg", "type": "quantitative", "title": "Intensity (a.u.)"}}},
   {"data": {"name": "c_fit"}, "mark": {"type": "line", "interpolate": "monotone", "color": "#3a3a3a", "strokeWidth": 2.2}, "encoding": {"x": {"field": "e", "type": "quantitative", "title": "Binding energy (eV)"}, "y": {"field": "fit", "type": "quantitative", "title": "Intensity (a.u.)"}}},
   {"data": {"name": "c_pts"}, "mark": {"type": "point", "shape": "circle", "size": 30, "strokeWidth": 1.1, "color": "#3a3a3a", "filled": false}, "encoding": {"x": {"field": "e", "type": "quantitative", "title": "Binding energy (eV)"}, "y": {"field": "v", "type": "quantitative", "title": "Intensity (a.u.)"}}},
   {"data": {"values": [{}]}, "mark": {"type": "text", "text": "A-CNT", "align": "right", "baseline": "alphabetic", "fontSize": 22, "fontWeight": "bold", "color": "#2469c8"}, "encoding": {"x": {"datum": 394.38}, "y": {"datum": 88}}},
   {"data": {"values": [{"s": "Pyridinic N"}, {"s": "Pyridinium N"}, {"s": "Fitting"}]}, "mark": {"type": "point", "opacity": 0, "filled": true},
    "encoding": {
     "fill": {"field": "s", "type": "nominal", "scale": {"domain": ["Pyridinic N", "Pyridinium N", "Fitting"], "range": ["#f47f82", "#84ce9f", "#3d3d3d"]}, "legend": {"title": null, "orient": "none", "legendX": 23, "legendY": 16, "padding": 0, "symbolSize": 256, "symbolStrokeWidth": 2, "symbolOpacity": 1, "labelFontSize": 17.5, "labelFontWeight": "bold", "labelColor": "#111", "labelOffset": 17, "rowPadding": 0, "labelLimit": 300}},
     "stroke": {"field": "s", "type": "nominal", "scale": {"domain": ["Pyridinic N", "Pyridinium N", "Fitting"], "range": ["#ea3a3f", "#3aab69", "#3d3d3d"]}, "legend": {"title": null, "orient": "none", "legendX": 23, "legendY": 16, "padding": 0, "symbolSize": 256, "symbolStrokeWidth": 2, "symbolOpacity": 1, "labelFontSize": 17.5, "labelFontWeight": "bold", "labelColor": "#111", "labelOffset": 17, "rowPadding": 0, "labelLimit": 300}},
     "shape": {"field": "s", "type": "nominal", "scale": {"domain": ["Pyridinic N", "Pyridinium N", "Fitting"], "range": ["M-2.5,-1.25H2.5V1.25H-2.5Z", "M-2.5,-1.25H2.5V1.25H-2.5Z", "M-2.5,-0.025H2.5V0.025H-2.5Z"]}, "legend": {"title": null, "orient": "none", "legendX": 23, "legendY": 16, "padding": 0, "symbolSize": 256, "symbolStrokeWidth": 2, "symbolOpacity": 1, "labelFontSize": 17.5, "labelFontWeight": "bold", "labelColor": "#111", "labelOffset": 17, "rowPadding": 0, "labelLimit": 300}}
    }}
  ]},
 {"width": 332, "height": 270,
  "title": {"text": "d", "dx": -25, "dy": 17},
  "layer": [
   {"data": {"name": "d_fit"}, "mark": {"type": "area", "interpolate": "monotone", "opacity": 0.85, "fill": {"gradient": "linear", "x1": 0, "y1": 0, "x2": 0, "y2": 1, "stops": [{"offset": 0, "color": "#2c9f5c"}, {"offset": 0.55, "color": "#88cfa3"}, {"offset": 1, "color": "#e2f5e9"}]}},
    "encoding": {"x": {"field": "e", "type": "quantitative", "scale": {"domain": [408, 394], "nice": false, "zero": false},
       "axis": {"values": [394,395,396,397,398,399,400,401,402,403,404,405,406,407,408], "labelExpr": "datum.value % 2 === 0 ? datum.label : ''", "tickSize": {"condition": {"test": "datum.value % 2 === 0", "value": 6}, "value": 3}, "labelPadding": 3, "labelOverlap": false, "labelFlush": false, "title": "Binding energy (eV)", "titlePadding": 10}},
     "y": {"field": "g", "type": "quantitative", "scale": {"domain": [0, 100], "nice": false, "zero": false}, "axis": {"title": "Intensity (a.u.)", "labels": false, "ticks": false, "domain": false, "titlePadding": 6, "titleFontSize": 16, "minExtent": 0, "maxExtent": 0}},
     "y2": {"field": "bg"}}},
   {"data": {"name": "d_fit"}, "mark": {"type": "line", "interpolate": "monotone", "color": "#2a9d58", "strokeWidth": 1.6}, "encoding": {"x": {"field": "e", "type": "quantitative", "title": "Binding energy (eV)"}, "y": {"field": "g", "type": "quantitative", "title": "Intensity (a.u.)"}}},
   {"data": {"name": "d_fit"}, "mark": {"type": "area", "interpolate": "monotone", "opacity": 0.85, "fill": {"gradient": "linear", "x1": 0, "y1": 0, "x2": 0, "y2": 1, "stops": [{"offset": 0, "color": "#ef2f33"}, {"offset": 0.55, "color": "#f78d8f"}, {"offset": 1, "color": "#fde2e2"}]}},
    "encoding": {"x": {"field": "e", "type": "quantitative", "title": "Binding energy (eV)"}, "y": {"field": "r", "type": "quantitative", "title": "Intensity (a.u.)"}, "y2": {"field": "bg"}}},
   {"data": {"name": "d_fit"}, "mark": {"type": "line", "interpolate": "monotone", "color": "#ec3035", "strokeWidth": 1.6}, "encoding": {"x": {"field": "e", "type": "quantitative", "title": "Binding energy (eV)"}, "y": {"field": "r", "type": "quantitative", "title": "Intensity (a.u.)"}}},
   {"data": {"name": "d_fit"}, "mark": {"type": "line", "interpolate": "monotone", "color": "#f08a4b", "strokeWidth": 1.8}, "encoding": {"x": {"field": "e", "type": "quantitative", "title": "Binding energy (eV)"}, "y": {"field": "bg", "type": "quantitative", "title": "Intensity (a.u.)"}}},
   {"data": {"name": "d_fit"}, "mark": {"type": "line", "interpolate": "monotone", "color": "#3a3a3a", "strokeWidth": 2.2}, "encoding": {"x": {"field": "e", "type": "quantitative", "title": "Binding energy (eV)"}, "y": {"field": "fit", "type": "quantitative", "title": "Intensity (a.u.)"}}},
   {"data": {"name": "d_pts"}, "mark": {"type": "point", "shape": "circle", "size": 30, "strokeWidth": 1.1, "color": "#3a3a3a", "filled": false}, "encoding": {"x": {"field": "e", "type": "quantitative", "title": "Binding energy (eV)"}, "y": {"field": "v", "type": "quantitative", "title": "Intensity (a.u.)"}}},
   {"data": {"values": [{}]}, "mark": {"type": "text", "text": "IsoQ-CNT", "align": "right", "baseline": "alphabetic", "fontSize": 22, "fontWeight": "bold", "color": "#d4a20f"}, "encoding": {"x": {"datum": 394.35}, "y": {"datum": 88.9}}},
   {"data": {"values": [{"s": "Pyridinium N"}, {"s": "Pyridinic N"}, {"s": "Fitting"}]}, "mark": {"type": "point", "opacity": 0, "filled": true},
    "encoding": {
     "fill": {"field": "s", "type": "nominal", "scale": {"domain": ["Pyridinium N", "Pyridinic N", "Fitting"], "range": ["#84ce9f", "#f47f82", "#3d3d3d"]}, "legend": {"title": null, "orient": "none", "legendX": 16, "legendY": 10, "padding": 0, "symbolSize": 256, "symbolStrokeWidth": 2, "symbolOpacity": 1, "labelFontSize": 17.5, "labelFontWeight": "bold", "labelColor": "#111", "labelOffset": 17, "rowPadding": 0, "labelLimit": 300}},
     "stroke": {"field": "s", "type": "nominal", "scale": {"domain": ["Pyridinium N", "Pyridinic N", "Fitting"], "range": ["#3aab69", "#ea3a3f", "#3d3d3d"]}, "legend": {"title": null, "orient": "none", "legendX": 16, "legendY": 10, "padding": 0, "symbolSize": 256, "symbolStrokeWidth": 2, "symbolOpacity": 1, "labelFontSize": 17.5, "labelFontWeight": "bold", "labelColor": "#111", "labelOffset": 17, "rowPadding": 0, "labelLimit": 300}},
     "shape": {"field": "s", "type": "nominal", "scale": {"domain": ["Pyridinium N", "Pyridinic N", "Fitting"], "range": ["M-2.5,-1.25H2.5V1.25H-2.5Z", "M-2.5,-1.25H2.5V1.25H-2.5Z", "M-2.5,-0.025H2.5V0.025H-2.5Z"]}, "legend": {"title": null, "orient": "none", "legendX": 16, "legendY": 10, "padding": 0, "symbolSize": 256, "symbolStrokeWidth": 2, "symbolOpacity": 1, "labelFontSize": 17.5, "labelFontWeight": "bold", "labelColor": "#111", "labelOffset": 17, "rowPadding": 0, "labelLimit": 300}}
    }}
  ]},
 {"width": 336, "height": 270,
  "title": {"text": "e", "dx": -50, "dy": 19.5},
  "layer": [
   {"data": {"name": "e_data"}, "mark": {"type": "bar", "fill": {"gradient": "linear", "x1": 0, "y1": 0, "x2": 1, "y2": 0, "stops": [{"offset": 0, "color": "#d3a73a"}, {"offset": 0.5, "color": "#fee58b"}, {"offset": 1, "color": "#d3a73a"}]}},
    "encoding": {
     "x": {"field": "cat", "type": "nominal", "sort": ["Py-CNT", "Q-CNT", "A-CNT", "IsoQ-CNT"], "scale": {"paddingInner": 0.394, "paddingOuter": 0.209}, "axis": {"title": null, "labelAngle": 0, "ticks": false, "tickSize": 0, "labelPadding": 10}},
     "y": {"field": "v", "type": "quantitative", "scale": {"domain": [0, 3.75], "nice": false}, "axis": {"title": "N content (at% )", "values": [0, 0.5, 1, 1.5, 2, 2.5, 3, 3.5], "tickCount": 8, "format": ".1f", "tickSize": 5, "labelOverlap": false, "labelPadding": 3, "titlePadding": 3}}
    }},
   {"data": {"name": "e_data"}, "mark": {"type": "errorbar", "color": "#2a2a2a", "thickness": 2, "ticks": {"size": 8, "thickness": 2, "color": "#2a2a2a"}},
    "encoding": {
     "x": {"field": "cat", "type": "nominal", "sort": ["Py-CNT", "Q-CNT", "A-CNT", "IsoQ-CNT"], "title": null},
     "y": {"field": "lo", "type": "quantitative", "title": "N content (at% )", "axis": {"title": "N content (at% )", "values": [0, 0.5, 1, 1.5, 2, 2.5, 3, 3.5], "tickCount": 8, "format": ".1f", "tickSize": 5, "labelOverlap": false, "labelPadding": 3, "titlePadding": 3}},
     "y2": {"field": "hi"}
    }}
  ]},
 {"width": 322, "height": 270,
  "title": {"text": "f", "dx": -51, "dy": 16.5},
  "layer": [
   {"data": {"name": "f_data"}, "transform": [{"stack": "pct", "groupby": ["cat"], "sort": [{"field": "kind", "order": "ascending"}], "as": ["y0", "y1"]}],
    "mark": {"type": "bar"},
    "encoding": {
     "x": {"field": "cat", "type": "nominal", "sort": ["Py-CNT", "Q-CNT", "A-CNT", "IsoQ-CNT"], "scale": {"paddingInner": 0.4, "paddingOuter": 0.13, "align": 1}, "axis": {"title": null, "labelAngle": 0, "tickSize": 4, "labelPadding": 4}},
     "y": {"field": "y0", "type": "quantitative", "scale": {"domain": [0, 130], "nice": false}, "axis": {"title": "Percentage (%)", "titleFontSize": 17.5, "values": [0, 10, 20, 30, 40, 50, 60, 70, 80, 90, 100, 110, 120], "labelExpr": "datum.value % 20 === 0 ? datum.label : ''", "tickSize": {"condition": {"test": "datum.value % 20 === 0", "value": 5}, "value": 3}, "labelOverlap": false, "labelPadding": 3, "titlePadding": 3}},
     "y2": {"field": "y1"},
     "fill": {"field": "kind", "type": "nominal", "scale": {"domain": ["Pyridinium N", "Pyridinic N"], "range": ["#92dcb3", "#e95b5b"]},
       "legend": {"title": null, "orient": "none", "legendX": 186, "legendY": 8, "padding": 0, "symbolType": "M-2.533,-1.267H2.533V1.267H-2.533Z", "symbolSize": 225, "symbolStrokeWidth": 0.8, "symbolStrokeColor": "#7a7a7a", "symbolOpacity": 1, "labelFontSize": 17.5, "labelFontWeight": "bold", "labelColor": "#111", "labelOffset": 18, "rowPadding": 0, "labelLimit": 300}}
    }},
   {"data": {"name": "f_data"}, "transform": [{"stack": "pct", "groupby": ["cat"], "sort": [{"field": "kind", "order": "ascending"}], "as": ["y0", "y1"]}, {"filter": "datum.kind === 'Pyridinic N'"}],
    "mark": {"type": "bar", "stroke": "#6a4040", "strokeWidth": 0.7, "fill": {"gradient": "linear", "x1": 0, "y1": 0, "x2": 1, "y2": 0, "stops": [{"offset": 0, "color": "#c94949"}, {"offset": 0.5, "color": "#f46767"}, {"offset": 1, "color": "#c94949"}]}},
    "encoding": {"x": {"field": "cat", "type": "nominal", "sort": ["Py-CNT", "Q-CNT", "A-CNT", "IsoQ-CNT"], "title": null}, "y": {"field": "y0", "type": "quantitative", "title": "Percentage (%)"}, "y2": {"field": "y1"}}},
   {"data": {"name": "f_data"}, "transform": [{"stack": "pct", "groupby": ["cat"], "sort": [{"field": "kind", "order": "ascending"}], "as": ["y0", "y1"]}, {"filter": "datum.kind === 'Pyridinium N'"}],
    "mark": {"type": "bar", "stroke": "#6f8f7c", "strokeWidth": 0.7, "fill": {"gradient": "linear", "x1": 0, "y1": 0, "x2": 1, "y2": 0, "stops": [{"offset": 0, "color": "#6fc995"}, {"offset": 0.5, "color": "#a3ecc4"}, {"offset": 1, "color": "#6fc995"}]}},
    "encoding": {"x": {"field": "cat", "type": "nominal", "sort": ["Py-CNT", "Q-CNT", "A-CNT", "IsoQ-CNT"], "title": null}, "y": {"field": "y0", "type": "quantitative", "title": "Percentage (%)"}, "y2": {"field": "y1"}}},
   {"data": {"name": "f_data"}, "transform": [{"stack": "pct", "groupby": ["cat"], "sort": [{"field": "kind", "order": "ascending"}], "as": ["y0", "y1"]}, {"fold": ["y0", "y1"], "as": ["edge", "pos"]}, {"aggregate": [{"op": "mean", "field": "pos", "as": "mid"}], "groupby": ["cat", "kind", "label"]}],
    "mark": {"type": "text", "fontSize": 14.5, "baseline": "middle", "align": "center"},
    "encoding": {"x": {"field": "cat", "type": "nominal", "sort": ["Py-CNT", "Q-CNT", "A-CNT", "IsoQ-CNT"], "title": null}, "y": {"field": "mid", "type": "quantitative", "title": "Percentage (%)"}, "text": {"field": "label"},
     "color": {"condition": {"test": "datum.kind === 'Pyridinic N'", "value": "#fff3f3"}, "value": "#262626"}}},
   {"data": {"name": "f_err"}, "mark": {"type": "errorbar", "color": "#262626", "thickness": 1.6, "ticks": {"size": 7, "thickness": 1.6, "color": "#262626"}},
    "encoding": {"x": {"field": "cat", "type": "nominal", "sort": ["Py-CNT", "Q-CNT", "A-CNT", "IsoQ-CNT"], "title": null}, "y": {"field": "lo", "type": "quantitative", "title": "Percentage (%)"}, "y2": {"field": "hi"}}}
  ]}
]
}
